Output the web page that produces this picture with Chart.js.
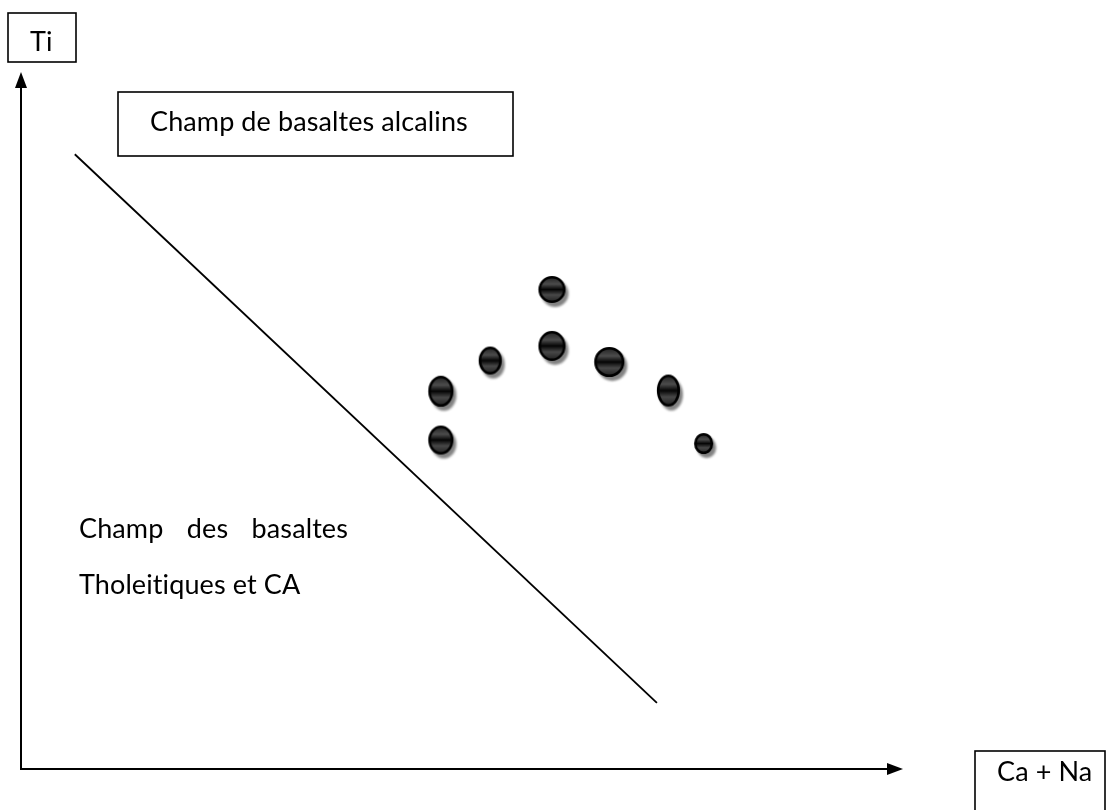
<!DOCTYPE html>
<html>
<head>
<meta charset="utf-8">
<script src="https://cdn.jsdelivr.net/npm/chart.js@4.4.0/dist/chart.umd.min.js"></script>
<style>
  html, body { margin: 0; padding: 0; background: #fff; }
  #wrap { width: 1107px; height: 810px; position: relative; }
</style>
</head>
<body>
<div id="wrap"><canvas id="chart"></canvas></div>
<script>
// Samples (arbitrary units, both axes 0-100)
const sampleCaNa = [47.6, 47.6, 53.2, 60.2, 60.2, 66.7, 73.4, 77.4];
const sampleTi   = [54.2, 47.2, 58.6, 68.8, 60.7, 58.4, 54.3, 46.7];

// Limit between alkaline and tholeiitic fields
const limitCaNa = [6.1, 72.1];
const limitTi   = [88.2, 9.5];

// Text labels
const xAxisLabel = 'Ca + Na';
const yAxisLabel = 'Ti';
const alkalineLabel = 'Champ de basaltes alcalins';
const tholeiiticLabel = ['Champ des basaltes', 'Tholeitiques et CA'];

// Marker sizes (width, height) - the dots are slightly uneven in the figure
const dotW = [25, 25, 23, 27, 27, 30, 23, 19];
const dotH = [31, 29, 28, 27, 30, 30, 32, 21];

// Builds one shaded ellipse with a drop shadow, used as pointStyle
function makeDot(w, h) {
    const pad = 8;
    const c = document.createElement('canvas');
    c.width = w + pad * 2;
    c.height = h + pad * 2;
    const g = c.getContext('2d');
    const cx = c.width / 2, cy = c.height / 2;

    // shadow
    g.save();
    g.filter = 'blur(1px)';
    g.fillStyle = 'rgba(100,100,100,0.8)';
    g.beginPath();
    g.ellipse(cx + 3, cy + 4, w / 2, h / 2, 0, 0, Math.PI * 2);
    g.fill();
    g.restore();

    // body
    const grad = g.createLinearGradient(0, cy - h / 2, 0, cy + h / 2);
    grad.addColorStop(0, '#1c1c1c');
    grad.addColorStop(0.3, '#4c4c4c');
    grad.addColorStop(0.5, '#050505');
    grad.addColorStop(0.7, '#484848');
    grad.addColorStop(1, '#1c1c1c');
    g.fillStyle = grad;
    g.beginPath();
    g.ellipse(cx, cy, w / 2 - 1.2, h / 2 - 1.2, 0, 0, Math.PI * 2);
    g.fill();
    g.lineWidth = 2.6;
    g.strokeStyle = '#000';
    g.stroke();
    return c;
}

const FONT = 'Lato, "Open Sans", sans-serif';
let fontSize = 28;

function boxAt(ctx, x, y, w, h) {
    ctx.save();
    ctx.lineWidth = 1.6;
    ctx.strokeStyle = '#000';
    ctx.strokeRect(x, y, w, h);
    ctx.restore();
}

// Axes with arrow heads, drawn through the scales
const axesPlugin = {
    id: 'axesArrows',
    beforeDatasetsDraw(chart) {
        const { ctx, scales: { x, y } } = chart;
        const x0 = x.getPixelForValue(0), x1 = x.getPixelForValue(100);
        const y0 = y.getPixelForValue(0), y1 = y.getPixelForValue(100);
        ctx.save();
        ctx.strokeStyle = '#000';
        ctx.fillStyle = '#000';
        ctx.lineWidth = 2;
        ctx.beginPath();
        ctx.moveTo(x0, y0);
        ctx.lineTo(x0, y1 + 12);
        ctx.moveTo(x0 - 1, y0);
        ctx.lineTo(x1 - 12, y0);
        ctx.stroke();
        // y arrow
        ctx.beginPath();
        ctx.moveTo(x0, y1);
        ctx.lineTo(x0 - 6, y1 + 16);
        ctx.lineTo(x0 + 6, y1 + 16);
        ctx.closePath();
        ctx.fill();
        // x arrow
        ctx.beginPath();
        ctx.moveTo(x1, y0);
        ctx.lineTo(x1 - 16, y0 - 6);
        ctx.lineTo(x1 - 16, y0 + 6);
        ctx.closePath();
        ctx.fill();
        ctx.restore();
    }
};

// Text boxes and field labels
const labelsPlugin = {
    id: 'fieldLabels',
    afterDraw(chart) {
        const ctx = chart.ctx;
        ctx.save();
        // a tiny letter spacing stops Lato from building the "ti" ligature
        if ('letterSpacing' in ctx) ctx.letterSpacing = '0.1px';
        ctx.font = '100px ' + FONT;
        fontSize = 100 * 316 / ctx.measureText(alkalineLabel).width;
        ctx.font = fontSize.toFixed(2) + 'px ' + FONT;
        ctx.fillStyle = '#000';
        ctx.textBaseline = 'alphabetic';

        boxAt(ctx, 8, 13, 68, 49);
        ctx.fillText(yAxisLabel, 30, 51);

        boxAt(ctx, 118, 92, 395, 64);
        ctx.fillText(alkalineLabel, 150, 131);

        boxAt(ctx, 975, 751, 130, 70);
        ctx.fillText(xAxisLabel, 997, 781);

        // justified first line
        const words = tholeiiticLabel[0].split(' ');
        const left = 79, right = 348;
        const widths = words.map(w => ctx.measureText(w).width);
        const gap = (right - left - widths.reduce((a, b) => a + b, 0)) / (words.length - 1);
        let xx = left;
        words.forEach((w, i) => {
            ctx.fillText(w, xx, 538);
            xx += widths[i] + gap;
        });
        ctx.fillText(tholeiiticLabel[1], 79, 594);
        ctx.restore();
    }
};

function build() {
    const dots = sampleCaNa.map((v, i) => ({ x: v, y: sampleTi[i] }));
    const limit = limitCaNa.map((v, i) => ({ x: v, y: limitTi[i] }));
    const dotStyles = dotW.map((w, i) => makeDot(w, dotH[i]));

    new Chart(document.getElementById('chart'), {
        type: 'scatter',
        data: {
            datasets: [
                {
                    type: 'line',
                    data: limit,
                    borderColor: '#000',
                    borderWidth: 1.8,
                    pointRadius: 0,
                    fill: false,
                    clip: false,
                    order: 2
                },
                {
                    type: 'scatter',
                    data: dots,
                    pointStyle: dotStyles,
                    pointRadius: 12,
                    clip: false,
                    order: 1
                }
            ]
        },
        options: {
            responsive: true,
            maintainAspectRatio: false,
            animation: false,
            layout: { padding: { left: 21, top: 72, right: 204, bottom: 41 } },
            plugins: { legend: { display: false }, tooltip: { enabled: false } },
            scales: {
                x: { type: 'linear', min: 0, max: 100, display: false },
                y: { type: 'linear', min: 0, max: 100, display: false }
            }
        },
        plugins: [axesPlugin, labelsPlugin]
    });
}

if (document.fonts && document.fonts.load) {
    document.fonts.load('28px Lato').then(build, build);
} else {
    build();
}
</script>
</body>
</html>
